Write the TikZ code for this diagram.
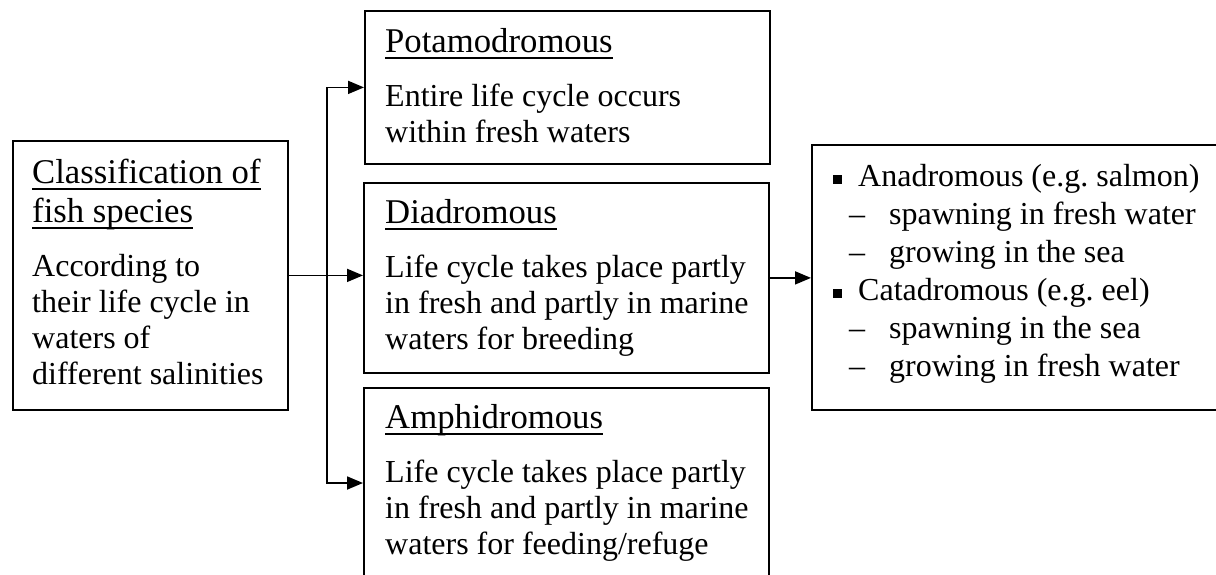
\documentclass[tikz,border=0pt]{standalone}
\usepackage{fontspec}
\setmainfont{Liberation Serif}
\usetikzlibrary{arrows.meta}
\newsavebox{\ulbox}
\newcommand{\undl}[1]{\leavevmode\sbox{\ulbox}{\fontsize{34.7pt}{36pt}\selectfont #1}\rlap{\rule[-6.5pt]{\wd\ulbox}{1.7pt}}\usebox{\ulbox}}
\newcommand{\bigtxt}{\fontsize{32pt}{36pt}\selectfont\frenchspacing}
\newcommand{\sqbullet}{\makebox[25pt][l]{\raisebox{2pt}{\rule{9pt}{9pt}}}}
\newcommand{\dashitem}{\hspace*{16pt}\makebox[40pt][l]{–}}
\begin{document}
\begin{tikzpicture}[x=1pt,y=-1pt,
  box/.style={draw, line width=1.8pt, inner sep=0pt, anchor=north west},
  txt/.style={anchor=base west, inner sep=0pt, font=\bigtxt},
  link/.style={line width=1.8pt},
  arr/.style={line width=1.8pt, -{Triangle[length=16pt,width=13pt]}}]
\useasboundingbox (0,0) rectangle (1216,574);
\clip (0,0) rectangle (1216,574);
% boxes
\node[box, minimum width=275pt, minimum height=269pt] (cls) at (12,140) {};
\node[box, minimum width=405pt, minimum height=153pt] (pot) at (364,10) {};
\node[box, minimum width=405pt, minimum height=190pt] (dia) at (363,182) {};
\node[box, minimum width=405pt, minimum height=220pt] (amp) at (363,387) {};
\node[box, minimum width=440pt, minimum height=265pt] (ana) at (811,144) {};
% texts
\node[txt] (clsT) at (32,183) {\parbox[t]{250pt}{\raggedright
  \undl{Classification of}\\[3pt]
  \undl{fish species}\\[18pt]
  According to\\
  their life cycle in\\
  waters of\\
  different salinities}};
\node[txt] (potT) at (385,52) {\parbox[t]{380pt}{\raggedright
  \undl{Potamodromous}\\[18pt]
  Entire life cycle occurs\\
  within fresh waters}};
\node[txt] (diaT) at (385,223) {\parbox[t]{380pt}{\raggedright
  \undl{Diadromous}\\[18pt]
  Life cycle takes place partly\\
  in fresh and partly in marine\\
  waters for breeding}};
\node[txt] (ampT) at (385,428) {\parbox[t]{380pt}{\raggedright
  \undl{Amphidromous}\\[18pt]
  Life cycle takes place partly\\
  in fresh and partly in marine\\
  waters for feeding/refuge}};
\node[txt] (anaT) at (833,186) {\parbox[t]{380pt}{\baselineskip=38pt\raggedright
  \sqbullet Anadromous (e.g. salmon)\\
  \dashitem spawning in fresh water\\
  \dashitem growing in the sea\\
  \sqbullet Catadromous (e.g. eel)\\
  \dashitem spawning in the sea\\
  \dashitem growing in fresh water}};
% connectors
\coordinate (j) at ([xshift=38pt]cls.east);
\coordinate (ampin) at ([yshift=-96pt]amp.north west);
\draw[link] (cls.east) -- (j);
\draw[arr] (j) -- (dia.west |- j);
\draw[arr] (j) |- (pot.west);
\draw[arr] (j) |- (ampin);
\draw[arr] (dia.east) -- (ana.west |- dia.east);
\end{tikzpicture}
\end{document}
